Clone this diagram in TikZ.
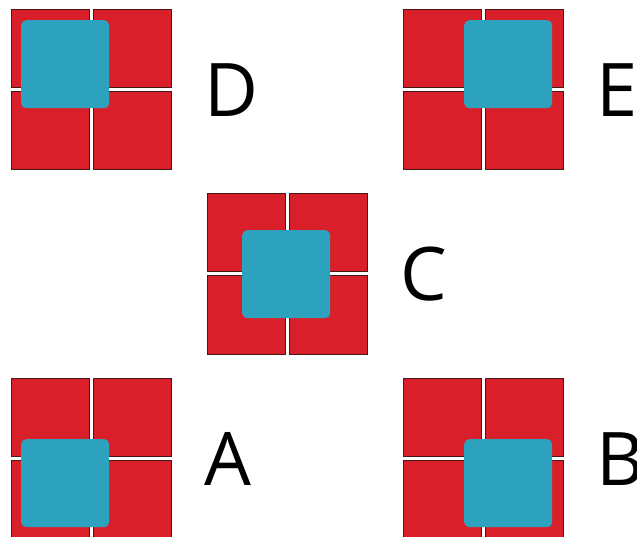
\documentclass[tikz,border=0pt]{standalone}
\usepackage{fontspec}
\setmainfont{Open Sans}
\usetikzlibrary{positioning}
\definecolor{tilered}{RGB}{217,32,42}
\definecolor{tileedge}{RGB}{70,24,24}
\definecolor{tileblue}{RGB}{44,162,191}
\tikzset{
  cell/.style={draw=tileedge, line width=0.8pt, fill=tilered, anchor=north west,
    minimum width=78pt, minimum height=78pt, inner sep=0pt},
  cover/.style={fill=tileblue, rounded corners=5pt, anchor=north west,
    minimum width=88pt, minimum height=88pt, inner sep=0pt},
}

\begin{document}
\begin{tikzpicture}[
  x=1pt, y=-1pt,
  letter/.style={font=\fontsize{74}{74}\selectfont, anchor=base west, inner sep=0pt},
]
  \useasboundingbox (0,0) rectangle (637,537);
  \clip (0,0) rectangle (637,537);

  \foreach \name/\gx/\gy/\bx/\by in {D/10/9/11/11, E/402/9/62/11, C/206/193/36/37,
                                     A/10/377/11/62, B/402/377/62/62}{
    \node[cell] (\name-nw) at (\gx+0.5,\gy+0.5) {};
    \node[cell] (\name-ne) at (\gx+82.5,\gy+0.5) {};
    \node[cell] (\name-sw) at (\gx+0.5,\gy+82.5) {};
    \node[cell] (\name-se) at (\gx+82.5,\gy+82.5) {};
    \node[cover] (\name-blue) at (\gx+\bx,\gy+\by) {};
    \node[letter] (\name-lbl) at (\gx+194,\gy+108) {\name};
  }
\end{tikzpicture}
\end{document}
